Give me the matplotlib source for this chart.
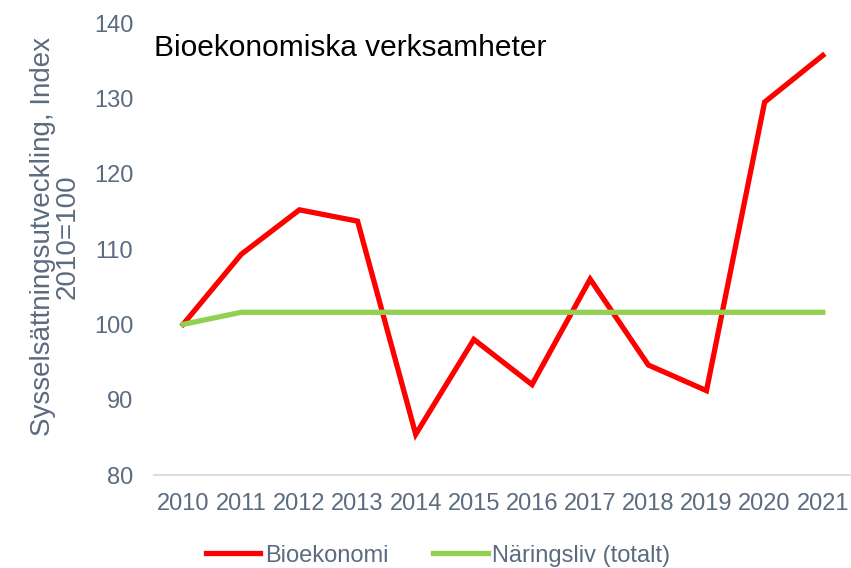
import matplotlib.pyplot as plt
import numpy as np

plt.rcParams['font.family'] = ['Liberation Sans', 'DejaVu Sans']

years = ['2010', '2011', '2012', '2013', '2014', '2015', '2016', '2017', '2018', '2019', '2020', '2021']
bioekonomi = [100, 109.3, 115.2, 113.7, 85.4, 98.0, 92.0, 106.0, 94.6, 91.2, 129.5, 135.7]
naringsliv = [100, 101.6, 101.6, 101.6, 101.6, 101.6, 101.6, 101.6, 101.6, 101.6, 101.6, 101.6]

txt = '#5b6b80'
fig = plt.figure(figsize=(8.51, 5.68), dpi=100)
ax = fig.add_axes([0.181, 0.1637, 0.82, 0.7958])

x = np.arange(len(years))
ax.plot(x, bioekonomi, color='#ff0000', lw=3.8, label='Bioekonomi', solid_joinstyle='miter')
ax.plot(x, naringsliv, color='#92d050', lw=3.8, label='Näringsliv (totalt)')

ax.set_xlim(-0.5, len(years) - 0.5)
ax.set_ylim(80, 140)
ax.set_yticks(range(80, 141, 10))
ax.set_xticks(x)
ax.set_xticklabels(years)
ax.tick_params(axis='both', length=0, labelsize=17, labelcolor=txt)
ax.tick_params(axis='y', pad=15)
ax.tick_params(axis='x', pad=13)
for s in ['top', 'right', 'left']:
    ax.spines[s].set_visible(False)
ax.spines['bottom'].set_color('#d9dee6')
ax.spines['bottom'].set_linewidth(1.5)

ax.set_ylabel('Sysselsättningsutveckling, Index\n2010=100', fontsize=20, color=txt, linespacing=0.95)
ax.yaxis.set_label_coords(-0.105, 0.527)
ax.text(0.0, 0.975, 'Bioekonomiska verksamheter', transform=ax.transAxes, fontsize=21.5,
        color='black', va='top', ha='left')

fig.legend(loc='lower center', bbox_to_anchor=(0.515, -0.035), ncol=2, frameon=False,
           fontsize=17, labelcolor=txt, handlelength=2.3, handletextpad=0.2, columnspacing=1.9)

fig.savefig('out.png', dpi=100)
